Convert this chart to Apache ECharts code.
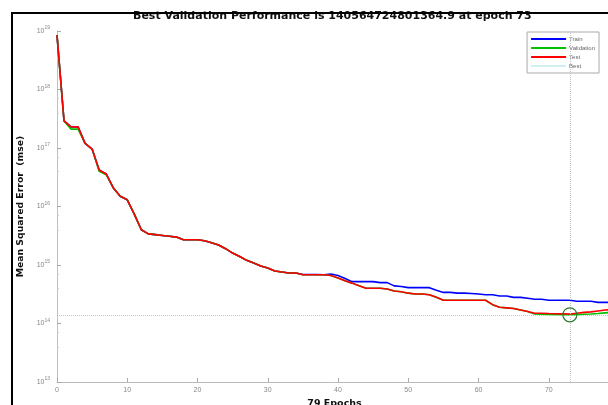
<!DOCTYPE html>
<html>
<head>
<meta charset="utf-8">
<script src="https://cdn.jsdelivr.net/npm/echarts@6/dist/echarts.min.js"></script>
<style>
  html, body { margin: 0; padding: 0; background: #fff; }
  #chart { width: 608px; height: 405px; }
</style>
</head>
<body>
<div id="chart"></div>
<script>
// performance per epoch (index = epoch)
const trainPerf = [
  8.5e18, 2.9e17, 2.3e17, 2.3e17, 1.2e17, 9.6e16, 4.2e16, 3.6e16, 2.1e16, 1.5e16,
  1.3e16, 7.4e15, 4.0e15, 3.4e15, 3.3e15, 3.2e15, 3.1e15, 3.0e15, 2.7e15, 2.7e15,
  2.7e15, 2.6e15, 2.4e15, 2.2e15, 1.9e15, 1.6e15, 1.4e15, 1.2e15, 1.08e15, 9.6e14,
  8.9e14, 7.9e14, 7.6e14, 7.3e14, 7.3e14, 6.9e14, 6.9e14, 6.9e14, 6.8e14, 7.0e14,
  6.6e14, 5.9e14, 5.2e14, 5.2e14, 5.2e14, 5.2e14, 5.0e14, 5.0e14, 4.4e14, 4.3e14,
  4.1e14, 4.1e14, 4.1e14, 4.1e14, 3.7e14, 3.4e14, 3.4e14, 3.3e14, 3.3e14, 3.25e14,
  3.2e14, 3.1e14, 3.1e14, 2.95e14, 2.95e14, 2.8e14, 2.8e14, 2.7e14, 2.6e14, 2.6e14,
  2.5e14, 2.5e14, 2.5e14, 2.5e14, 2.4e14, 2.4e14, 2.4e14, 2.3e14, 2.3e14, 2.3e14
];
const validationPerf = [
  8.5e18, 2.9e17, 2.1e17, 2.1e17, 1.2e17, 9.6e16, 4.0e16, 3.5e16, 2.1e16, 1.5e16,
  1.3e16, 7.4e15, 4.0e15, 3.4e15, 3.3e15, 3.2e15, 3.1e15, 3.0e15, 2.7e15, 2.7e15,
  2.7e15, 2.6e15, 2.4e15, 2.2e15, 1.9e15, 1.6e15, 1.4e15, 1.2e15, 1.08e15, 9.6e14,
  8.9e14, 7.9e14, 7.6e14, 7.3e14, 7.3e14, 6.8e14, 6.8e14, 6.8e14, 6.8e14, 6.6e14,
  6.0e14, 5.4e14, 4.9e14, 4.4e14, 4.0e14, 4.0e14, 4.0e14, 3.9e14, 3.6e14, 3.5e14,
  3.3e14, 3.2e14, 3.2e14, 3.1e14, 2.8e14, 2.5e14, 2.5e14, 2.5e14, 2.5e14, 2.5e14,
  2.5e14, 2.5e14, 2.1e14, 1.9e14, 1.85e14, 1.8e14, 1.7e14, 1.6e14, 1.45e14, 1.44e14,
  1.43e14, 1.42e14, 1.41e14, 1.4056e14, 1.42e14, 1.44e14, 1.45e14, 1.48e14, 1.52e14, 1.55e14
];
const testPerf = [
  8.5e18, 2.9e17, 2.3e17, 2.3e17, 1.2e17, 9.6e16, 4.2e16, 3.6e16, 2.1e16, 1.5e16,
  1.3e16, 7.4e15, 4.0e15, 3.4e15, 3.3e15, 3.2e15, 3.1e15, 3.0e15, 2.7e15, 2.7e15,
  2.7e15, 2.6e15, 2.4e15, 2.2e15, 1.9e15, 1.6e15, 1.4e15, 1.2e15, 1.08e15, 9.6e14,
  8.9e14, 7.9e14, 7.6e14, 7.3e14, 7.3e14, 6.8e14, 6.8e14, 6.8e14, 6.8e14, 6.6e14,
  6.0e14, 5.4e14, 4.9e14, 4.4e14, 4.0e14, 4.0e14, 4.0e14, 3.9e14, 3.6e14, 3.5e14,
  3.3e14, 3.2e14, 3.2e14, 3.1e14, 2.8e14, 2.5e14, 2.5e14, 2.5e14, 2.5e14, 2.5e14,
  2.5e14, 2.5e14, 2.1e14, 1.9e14, 1.85e14, 1.8e14, 1.7e14, 1.6e14, 1.5e14, 1.5e14,
  1.48e14, 1.47e14, 1.46e14, 1.45e14, 1.5e14, 1.55e14, 1.58e14, 1.64e14, 1.7e14, 1.72e14
];
const bestEpoch = 73;
const bestPerf = 140564724801364.9;
const seriesNames = ['Train', 'Validation', 'Test', 'Best'];
const lineColors = ['#0000ff', '#00c000', '#ff0000', '#cfeff0'];

const chart = echarts.init(document.getElementById('chart'));

const toPoints = arr => arr.map((v, i) => [i, v]);
const lineSeries = (name, data, color) => ({
  name: name,
  type: 'line',
  data: toPoints(data),
  showSymbol: false,
  symbol: 'none',
  color: color,
  lineStyle: { width: 1.6, color: color },
  emphasis: { disabled: true },
  animation: false
});

chart.setOption({
  animation: false,
  title: {
    text: 'Best Validation Performance is ' + bestPerf + ' at epoch ' + bestEpoch,
    left: 133,
    top: 11,
    padding: 0,
    textStyle: {
      fontFamily: 'DejaVu Sans',
      fontWeight: 'bold',
      fontSize: 11,
      color: '#111'
    }
  },
  legend: {
    data: seriesNames.map((n, i) => ({
      name: n,
      icon: 'rect',
      itemStyle: { color: lineColors[i], borderWidth: 0 }
    })),
    orient: 'vertical',
    right: 9,
    top: 32,
    itemWidth: 35,
    itemHeight: 2,
    itemGap: 1,
    padding: [3, 4, 3, 4],
    borderColor: '#aaa',
    borderWidth: 1,
    selectedMode: false,
    textStyle: {
      fontFamily: 'Liberation Sans',
      fontSize: 6,
      lineHeight: 8,
      color: '#666',
      padding: [0, 0, 0, -2]
    }
  },
  graphic: [{
    type: 'rect',
    shape: { x: 12, y: 13, width: 620, height: 420 },
    style: { fill: 'none', stroke: '#000', lineWidth: 2 },
    silent: true,
    z: 100
  }],
  grid: {
    left: 57,
    top: 31,
    width: 555,
    height: 351,
    outerBoundsMode: 'none'
  },
  xAxis: {
    type: 'value',
    min: 0,
    max: 79,
    interval: 10,
    name: '79 Epochs',
    nameLocation: 'middle',
    nameGap: 17,
    nameTextStyle: {
      fontFamily: 'DejaVu Sans',
      fontWeight: 'bold',
      fontSize: 9.5,
      color: '#111'
    },
    axisLine: { lineStyle: { color: '#bbb', width: 1 } },
    axisTick: { inside: true, length: 4, lineStyle: { color: '#aaa' } },
    splitLine: { show: false },
    axisLabel: {
      fontFamily: 'Liberation Sans',
      fontSize: 7,
      color: '#888',
      margin: 5,
      formatter: v => (v % 10 === 0 ? String(v) : '')
    }
  },
  yAxis: {
    type: 'log',
    logBase: 10,
    min: 1e13,
    max: 1e19,
    interval: 1,
    name: 'Mean Squared Error  (mse)',
    nameLocation: 'middle',
    nameGap: 32,
    nameTextStyle: {
      fontFamily: 'DejaVu Sans',
      fontWeight: 'bold',
      fontSize: 9.3,
      color: '#111'
    },
    axisLine: { show: true, lineStyle: { color: '#b8c4c4', width: 1 } },
    axisTick: { show: true, inside: true, length: 4, lineStyle: { color: '#aaa' } },
    minorTick: { show: true, splitNumber: 3, length: 2, lineStyle: { color: '#ccc' } },
    splitLine: { show: false },
    axisLabel: {
      margin: 7,
      formatter: v => '{b|10}{s|' + Math.round(Math.log10(v)) + '}',
      rich: {
        b: { fontFamily: 'Liberation Sans', fontSize: 7, color: '#888' },
        s: { fontFamily: 'Liberation Sans', fontSize: 5, color: '#888', padding: [0, 0, 6, 0] }
      }
    }
  },
  series: [
    lineSeries('Train', trainPerf, lineColors[0]),
    lineSeries('Validation', validationPerf, lineColors[1]),
    lineSeries('Test', testPerf, lineColors[2]),
    {
      name: 'Best',
      type: 'line',
      data: [[bestEpoch, bestPerf]],
      color: lineColors[3],
      symbol: 'circle',
      symbolSize: 14,
      showSymbol: true,
      itemStyle: { color: 'rgba(0,0,0,0)', borderColor: '#2f7a2f', borderWidth: 1.2 },
      lineStyle: { color: lineColors[3] },
      emphasis: { disabled: true },
      z: 5,
      markLine: {
        silent: true,
        symbol: 'none',
        label: { show: false },
        lineStyle: { type: 'dotted', color: '#c4c4c4', width: 1 },
        data: [{ xAxis: bestEpoch }, { yAxis: bestPerf }]
      }
    }
  ]
});
</script>
</body>
</html>
